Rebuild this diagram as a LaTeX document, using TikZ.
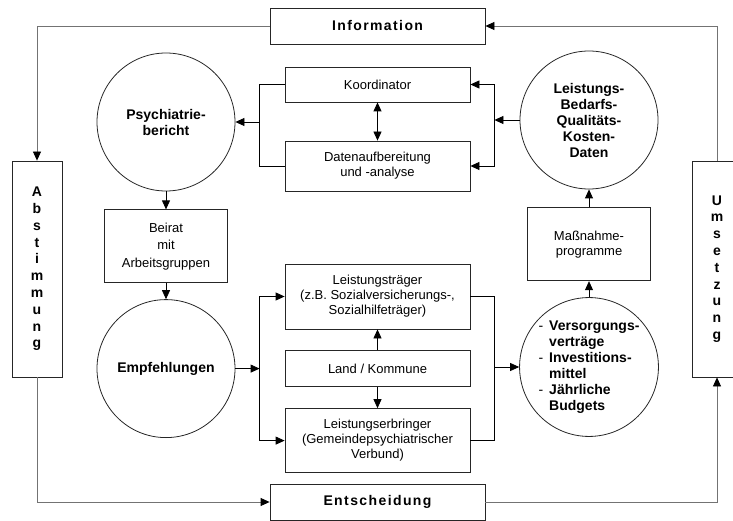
\documentclass[tikz,border=0pt]{standalone}
\usepackage{fontspec}
\setmainfont{Liberation Sans}
\usetikzlibrary{arrows.meta,positioning,calc}

\begin{document}
\begin{tikzpicture}[x=1pt, y=-1pt,
    % --- Box styles ---
    box/.style={draw=black!85, line width=0.8pt, minimum width=185pt,
                align=center, inner sep=2pt, font=\fontsize{13}{15}\selectfont},
    small/.style={box, minimum width=123pt, minimum height=73pt},
    circ/.style={draw=black!85, line width=0.8pt, circle, minimum size=138pt,
                 inner sep=0pt, align=center, font=\fontsize{14}{16}\selectfont\bfseries},
    side/.style={draw=black!85, line width=0.8pt, minimum width=50pt,
                 minimum height=216pt, align=center,
                 font=\fontsize{14}{16.8}\selectfont\bfseries},
    head/.style={draw=black!85, line width=0.8pt, minimum width=215pt,
                 minimum height=36pt,
                 font=\fontsize{14}{16}\selectfont\bfseries\addfontfeature{LetterSpace=10}},
    % --- Arrow styles ---
    link/.style={line width=0.8pt},
    flow/.style={link, -{Triangle[length=9pt,width=8pt,color=black]}},
    both/.style={link, {Triangle[length=9pt,width=8pt]}-{Triangle[length=9pt,width=8pt]}},
    outer/.style={flow, draw=black!55},
]
\useasboundingbox (0,0) rectangle (733,521);

% === Outer frame: Information, Abstimmung, Entscheidung, Umsetzung ===
\node[head] (info) at (377.5,26)  {Information};
\node[head] (ent)  at (377.5,502) {Entscheidung};
\node[side] (abst) at (37,269)  {A\\b\\s\\t\\i\\m\\m\\u\\n\\g};
\node[side] (ums)  at (717,269) {U\\m\\s\\e\\t\\z\\u\\n\\g};

% === Upper part ===
\node[circ] (psy)  at (166,122) {Psychiatrie-\\bericht};
\node[box, minimum height=35pt] (koord) at (377.5,84.5) {Koordinator};
\node[box, minimum height=50pt] (daten) at (377.5,166) {Datenaufbereitung\\und -analyse};
\node[circ] (ldat) at (589,120) {Leistungs-\\Bedarfs-\\Qualitäts-\\Kosten-\\Daten};

% === Left column ===
\node[small, font=\fontsize{13}{17.5}\selectfont, below=18pt of psy] (beirat) {Beirat\\mit\\Arbeitsgruppen};
\node[circ, below=16pt of beirat] (emp) {Empfehlungen};

% === Middle column ===
\node[box, minimum height=65pt] (lt) at (377.5,296.5)
  {Leistungsträger\\(z.B. Sozialversicherungs-,\\Sozialhilfeträger)};
\node[box, minimum height=36pt, below=21pt of lt] (land) {Land / Kommune};
\node[box, minimum height=64pt, below=21pt of land] (le)
  {Leistungserbringer\\(Gemeindepsychiatrischer\\Verbund)};

% === Right column ===
\node[circ] (ver) at (589,367) {%
  \begin{tabular}{@{}l@{\hspace{6pt}}l@{}}
  \mdseries- & Versorgungs-\\ & verträge\\
  \mdseries- & Investitions-\\ & mittel\\
  \mdseries- & Jährliche\\ & Budgets
  \end{tabular}};
\node[small, above=16pt of ver] (mass) {Maßnahme-\\programme};

% === Outer loop ===
\draw[outer] (info.west) -| (abst.north);
\draw[outer] (abst.south) |- (ent.west);
\draw[outer] (ent.east) -| (ums.south);
\draw[outer] (ums.north) |- (info.east);

% === Upper brackets ===
\coordinate (kl) at ($(koord.west)!0.5!(daten.west)+(-25,0)$);
\coordinate (kr) at ($(koord.east)!0.5!(daten.east)+(24,0)$);
\draw[link] (koord.west) -| (kl) |- (daten.west);
\draw[flow] (kl |- psy.east) -- (psy.east);
\draw[flow] (kr) |- (koord.east);
\draw[flow] (kr) |- (daten.east);
\draw[flow] (ldat.west) -- (ldat.west -| kr);
\draw[both] (koord) -- (daten);

% === Left column flow ===
\draw[flow] (psy) -- (beirat);
\draw[flow] (beirat) -- (emp);

% === Lower brackets ===
\coordinate (ll) at ($(lt.west)!0.5!(le.west)+(-25,0)$);
\coordinate (lr) at ($(lt.east)!0.5!(le.east)+(24,0)$);
\draw[flow] (emp.east) -- (emp.east -| ll);
\draw[flow] (ll) |- (lt.west);
\draw[flow] (ll) |- (le.west);
\draw[flow] (land) -- (lt);
\draw[flow] (land) -- (le);
\draw[link] (lt.east) -| (lr) |- (le.east);
\draw[flow] (lr |- ver.west) -- (ver.west);

% === Right column flow ===
\draw[flow] (ver) -- (mass);
\draw[flow] (mass) -- (ldat);

\end{tikzpicture}
\end{document}
